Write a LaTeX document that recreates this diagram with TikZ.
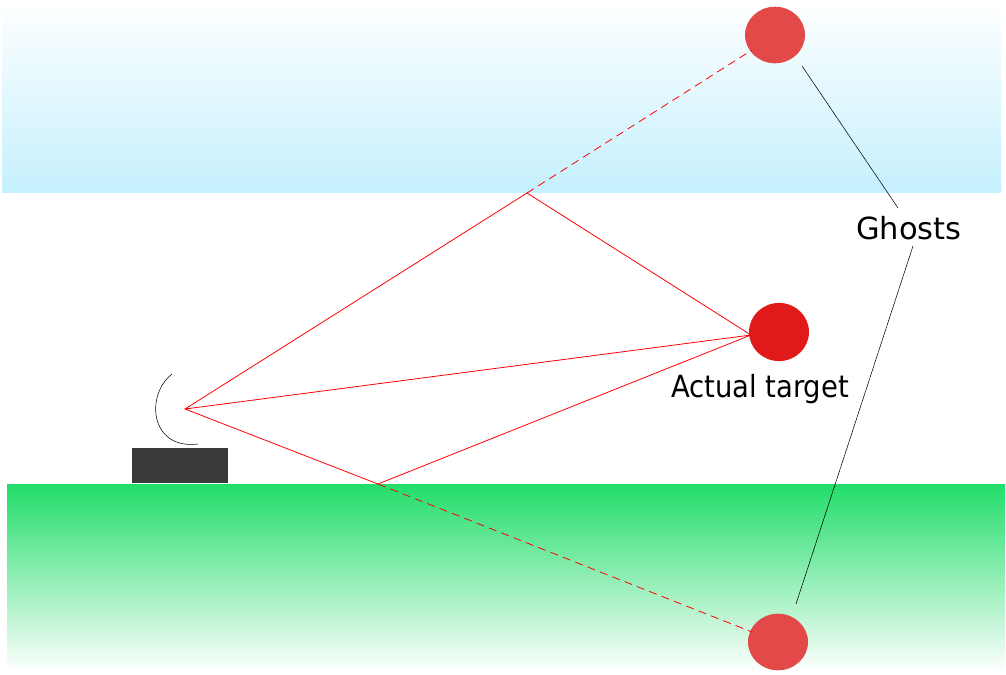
\documentclass[tikz,border=0pt]{standalone}
\usepackage{fontspec}
\setmainfont{DejaVu Sans}
\newfontfamily\condfont{DejaVu Sans Condensed}
\begin{document}
\begin{tikzpicture}[x=0.0265cm,y=-0.0265cm,
  ray/.style={red,line width=0.6pt},
  ghostray/.style={red,line width=0.6pt,dash pattern=on 6pt off 4pt},
  lead/.style={black,line width=0.4pt},
  lbl/.style={font=\fontsize{23}{26}\selectfont,inner sep=0}]
\useasboundingbox (0,0) rectangle (1006,674);
\definecolor{sky}{HTML}{C5F0FD}
\definecolor{grass}{HTML}{22DD6A}
\definecolor{targ}{HTML}{E01A1A}
\definecolor{ghost}{HTML}{E34949}
\shade[top color=white,bottom color=sky] (2,0) rectangle (1001,192);
\shade[top color=grass,bottom color=white] (7,484) rectangle (1005,672);
\fill[fill={rgb,255:red,58;green,58;blue,58}] (132,448) rectangle (228,483);
\draw[lead] (172,374) .. controls (145,395) and (150,450) .. (198,444);
\coordinate (E) at (185,409);
\coordinate (S) at (527,193);
\coordinate (G) at (378,484);
\coordinate (T) at (779,332);
\coordinate (TL) at (751,335);
\coordinate (GT) at (775,35);
\coordinate (GB) at (778,642);
\coordinate (GTe) at (752,50);
\coordinate (GBe) at (752,632);
\fill[targ] (T) ellipse [x radius=0.795cm,y radius=0.77cm];
\fill[ghost] (GT) ellipse [x radius=0.795cm,y radius=0.75cm];
\fill[ghost] (GB) ellipse [x radius=0.795cm,y radius=0.75cm];
\draw[ray] (E) -- (S) -- (TL) -- (E) -- (G) -- (TL);
\draw[ghostray] (S) -- (GTe);
\draw[ghostray] (G) -- (GBe);
\node[lbl] (gh) at (909,228) {Ghosts};
\node[lbl,font=\condfont\fontsize{23}{26}\selectfont] (at) at (760,389) {Actual target};
\coordinate (a1) at (802,66);
\coordinate (a2) at (898,208);
\coordinate (b1) at (913,246);
\coordinate (b2) at (796,604);
\draw[lead] (a1) -- (a2);
\draw[lead] (b1) -- (b2);
\end{tikzpicture}
\end{document}
